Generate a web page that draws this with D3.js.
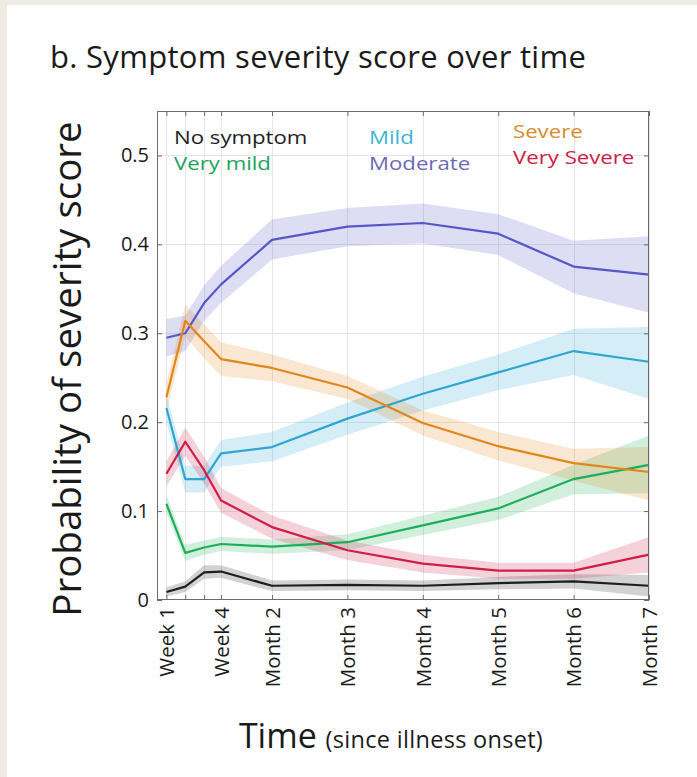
<!DOCTYPE html>
<html>
<head>
<meta charset="utf-8">
<script src="https://cdn.jsdelivr.net/npm/d3@7"></script>
<style>
  html, body { margin: 0; padding: 0; background: #eeebe4; }
  svg { display: block; }
  text { font-family: "Open Sans", "Noto Sans", sans-serif; }
</style>
</head>
<body>
<svg id="chart" width="697" height="777"></svg>
<script>
// Time points (position along the time axis) and their labels
const timeLabels = ["Week 1", "Week 2", "Week 3", "Week 4", "Month 2", "Month 3", "Month 4", "Month 5", "Month 6", "Month 7"];
const timePos = [1, 2, 3, 3.9, 6.6, 10.6, 14.6, 18.6, 22.6, 26.6];
const shownTickLabels = ["Week 1", "", "", "Week 4", "Month 2", "Month 3", "Month 4", "Month 5", "Month 6", "Month 7"];
const yTicks = [0, 0.1, 0.2, 0.3, 0.4, 0.5];

// Probability of each severity score: mean and confidence band
const noSymptomMean  = [0.009, 0.015, 0.031, 0.032, 0.016, 0.017, 0.016, 0.019, 0.021, 0.016];
const noSymptomLow   = [0.004, 0.009, 0.024, 0.025, 0.010, 0.011, 0.010, 0.012, 0.013, 0.004];
const noSymptomHigh  = [0.014, 0.021, 0.039, 0.039, 0.022, 0.023, 0.022, 0.026, 0.029, 0.028];

const veryMildMean   = [0.108, 0.053, 0.059, 0.063, 0.060, 0.065, 0.084, 0.103, 0.136, 0.152];
const veryMildLow    = [0.098, 0.044, 0.051, 0.055, 0.052, 0.056, 0.073, 0.090, 0.119, 0.120];
const veryMildHigh   = [0.118, 0.062, 0.067, 0.071, 0.068, 0.074, 0.095, 0.116, 0.152, 0.185];

const mildMean       = [0.216, 0.136, 0.136, 0.165, 0.172, 0.204, 0.232, 0.256, 0.280, 0.268];
const mildLow        = [0.200, 0.121, 0.121, 0.150, 0.156, 0.186, 0.213, 0.236, 0.253, 0.226];
const mildHigh       = [0.232, 0.151, 0.151, 0.180, 0.189, 0.222, 0.251, 0.276, 0.305, 0.307];

const moderateMean   = [0.295, 0.300, 0.334, 0.355, 0.405, 0.420, 0.424, 0.412, 0.375, 0.366];
const moderateLow    = [0.274, 0.280, 0.314, 0.334, 0.383, 0.398, 0.401, 0.388, 0.345, 0.323];
const moderateHigh   = [0.316, 0.320, 0.354, 0.376, 0.428, 0.441, 0.446, 0.434, 0.404, 0.409];

const severeMean     = [0.228, 0.314, 0.291, 0.271, 0.261, 0.239, 0.199, 0.173, 0.154, 0.144];
const severeLow      = [0.212, 0.296, 0.272, 0.252, 0.246, 0.226, 0.185, 0.157, 0.134, 0.112];
const severeHigh     = [0.244, 0.332, 0.310, 0.290, 0.276, 0.252, 0.213, 0.189, 0.170, 0.172];

const verySevereMean = [0.142, 0.178, 0.146, 0.112, 0.082, 0.056, 0.041, 0.033, 0.033, 0.051];
const verySevereLow  = [0.128, 0.162, 0.131, 0.098, 0.069, 0.045, 0.031, 0.024, 0.024, 0.031];
const verySevereHigh = [0.156, 0.194, 0.161, 0.126, 0.095, 0.067, 0.051, 0.042, 0.042, 0.071];

const seriesNames  = ["No symptom", "Very mild", "Mild", "Moderate", "Severe", "Very Severe"];
const seriesColors = ["#1e1e1e", "#1caf5a", "#2fa6d2", "#5656c8", "#e2861a", "#cf1d47"];
const labelColors  = ["#1e1e1e", "#22a35e", "#3fb4d4", "#6a6ab4", "#d98b2c", "#cc2046"];

const series = [
  { mean: noSymptomMean,  low: noSymptomLow,  high: noSymptomHigh },
  { mean: veryMildMean,   low: veryMildLow,   high: veryMildHigh },
  { mean: mildMean,       low: mildLow,       high: mildHigh },
  { mean: moderateMean,   low: moderateLow,   high: moderateHigh },
  { mean: severeMean,     low: severeLow,     high: severeHigh },
  { mean: verySevereMean, low: verySevereLow, high: verySevereHigh }
].map((s, i) => ({ ...s, name: seriesNames[i], color: seriesColors[i], labelColor: labelColors[i] }));

const svg = d3.select("#chart");

// white card on the page background
svg.append("rect").attr("x", 7).attr("y", 5).attr("width", 690).attr("height", 772).attr("fill", "#ffffff");

const plot = { left: 157, top: 111, right: 649, bottom: 600 };

const x = d3.scaleLinear().domain([0.5, 26.6]).range([plot.left, plot.right]);
const y = d3.scaleLinear().domain([0, 0.55]).range([plot.bottom, plot.top]);

// Title
svg.append("text")
  .attr("x", 50).attr("y", 68)
  .attr("font-size", 31).attr("letter-spacing", 0.3).attr("fill", "#1a1a1a")
  .text("b. Symptom severity score over time");

// Grid
const grid = svg.append("g").attr("stroke", "#e6e6e6").attr("stroke-width", 1);
grid.selectAll("line.v").data(timePos).join("line")
  .attr("x1", d => Math.round(x(d)) + 0.5).attr("x2", d => Math.round(x(d)) + 0.5)
  .attr("y1", plot.top).attr("y2", plot.bottom);
grid.selectAll("line.h").data(yTicks.slice(1)).join("line")
  .attr("class", "h")
  .attr("y1", d => Math.round(y(d)) + 0.5).attr("y2", d => Math.round(y(d)) + 0.5)
  .attr("x1", plot.left).attr("x2", plot.right);

// Confidence bands
const area = d3.area()
  .x((d, i) => x(timePos[i]))
  .y0(d => y(d[0]))
  .y1(d => y(d[1]));

svg.append("g").selectAll("path").data(series).join("path")
  .attr("d", s => area(s.low.map((v, i) => [v, s.high[i]])))
  .attr("fill", s => s.color)
  .attr("fill-opacity", 0.2)
  .attr("stroke", "none");

// Mean lines
const line = d3.line().x((d, i) => x(timePos[i])).y(d => y(d));
svg.append("g").selectAll("path").data(series).join("path")
  .attr("d", s => line(s.mean))
  .attr("fill", "none")
  .attr("stroke", s => s.color)
  .attr("stroke-width", 2.2)
  .attr("stroke-linejoin", "round");

// Axes (box with inward ticks on all sides)
const tickLen = 5;
const axisColor = "#6b6b6b";
const bottomAxis = d3.axisBottom(x).tickValues(timePos).tickSizeInner(-tickLen).tickSizeOuter(0)
  .tickFormat((d, i) => shownTickLabels[i]).tickPadding(8);
const topAxis = d3.axisTop(x).tickValues(timePos).tickSizeInner(-tickLen).tickSizeOuter(0).tickFormat("");
const leftAxis = d3.axisLeft(y).tickValues(yTicks).tickSizeInner(-tickLen).tickSizeOuter(0)
  .tickFormat(d => d === 0 ? "0" : d3.format(".1f")(d)).tickPadding(8);
const rightAxis = d3.axisRight(y).tickValues(yTicks).tickSizeInner(-tickLen).tickSizeOuter(0).tickFormat("");

function styleAxis(g) {
  g.select(".domain").remove();
  g.selectAll(".tick line").attr("stroke", axisColor);
  g.selectAll(".tick text").attr("fill", "#1a1a1a").attr("font-family", "'Open Sans', sans-serif");
}

const gB = svg.append("g").attr("transform", `translate(0,${plot.bottom})`).call(bottomAxis).call(styleAxis);
gB.selectAll(".tick text")
  .attr("font-size", 20.5)
  .attr("text-anchor", "end")
  .attr("transform", "rotate(-90)")
  .attr("x", -7).attr("y", 0).attr("dy", "0.36em");

svg.append("g").attr("transform", `translate(0,${plot.top})`).call(topAxis).call(styleAxis);

const gL = svg.append("g").attr("transform", `translate(${plot.left},0)`).call(leftAxis).call(styleAxis);
gL.selectAll(".tick text").attr("font-size", 20);

svg.append("g").attr("transform", `translate(${plot.right},0)`).call(rightAxis).call(styleAxis);

// Frame
svg.append("rect")
  .attr("x", plot.left + 0.5).attr("y", plot.top + 0.5)
  .attr("width", plot.right - plot.left - 1).attr("height", plot.bottom - plot.top - 1)
  .attr("fill", "none").attr("stroke", axisColor).attr("stroke-width", 1);

// Series key written inside the axes (slightly widened lettering)
const keyPos = [
  { x: 174, y: 144 }, { x: 174, y: 170 },
  { x: 369, y: 144 }, { x: 369, y: 170 },
  { x: 513, y: 138 }, { x: 513, y: 164 }
];
svg.append("g").selectAll("text").data(series).join("text")
  .attr("transform", (d, i) => `translate(${keyPos[i].x},${keyPos[i].y}) scale(1.2,1)`)
  .attr("font-size", 18.5)
  .attr("fill", d => d.labelColor)
  .text(d => d.name);

// Axis titles
svg.append("text")
  .attr("transform", "translate(81,369) rotate(-90)")
  .attr("text-anchor", "middle")
  .attr("font-size", 38.5)
  .attr("fill", "#1a1a1a")
  .text("Probability of severity score");

const xt = svg.append("text")
  .attr("x", 391).attr("y", 748)
  .attr("text-anchor", "middle")
  .attr("fill", "#1a1a1a");
xt.append("tspan").attr("font-size", 34).text("Time ");
xt.append("tspan").attr("font-size", 23.5).attr("letter-spacing", 0.3).text("(since illness onset)");
</script>
</body>
</html>
